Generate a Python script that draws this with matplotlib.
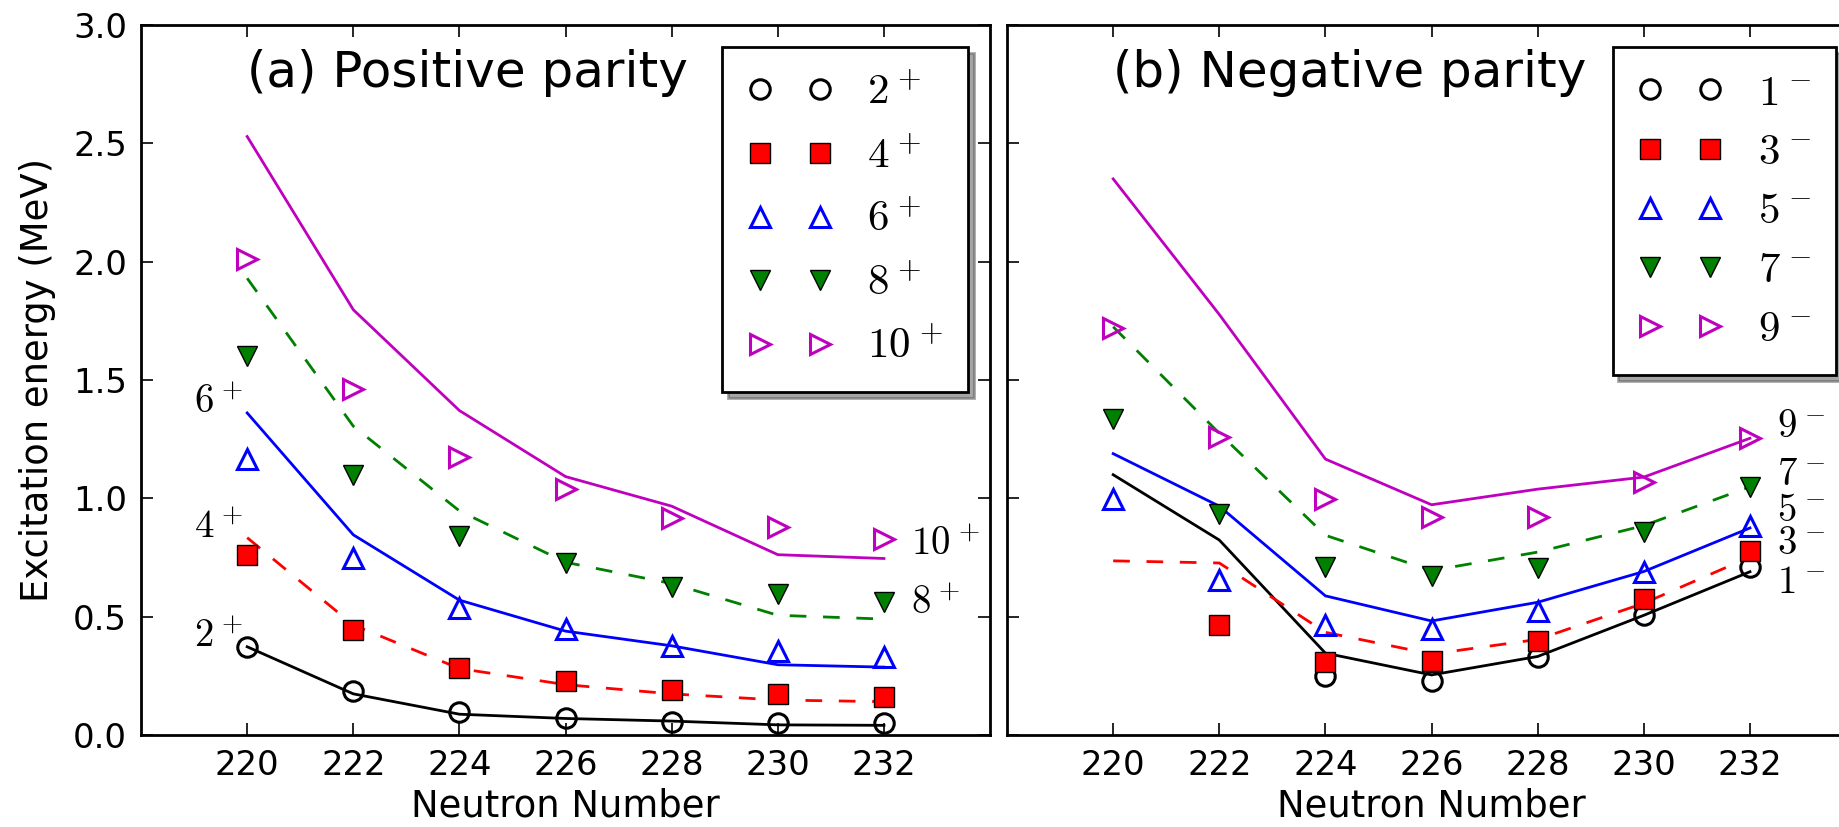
import numpy as np
import matplotlib
matplotlib.use('Agg')
import matplotlib.pyplot as plt

plt.rcParams['font.family'] = 'DejaVu Sans'
plt.rcParams['mathtext.fontset'] = 'cm'

neutrons = [220, 222, 224, 226, 228, 230, 232]

# positive parity: measured levels (markers) and calculated levels (lines)
exp_2p = [0.373, 0.184, 0.096, 0.074, 0.057, 0.051, 0.051]
exp_4p = [0.760, 0.443, 0.285, 0.227, 0.189, 0.174, 0.162]
exp_6p = [1.166, 0.748, 0.535, 0.449, 0.377, 0.357, 0.328]
exp_8p = [1.602, 1.100, 0.840, 0.727, 0.627, 0.598, 0.564]
exp_10p = [2.012, 1.463, 1.176, 1.039, 0.916, 0.881, 0.830]

th_2p = [0.373, 0.174, 0.088, 0.070, 0.059, 0.043, 0.041]
th_4p = [0.834, 0.465, 0.281, 0.213, 0.174, 0.148, 0.141]
th_6p = [1.361, 0.846, 0.570, 0.439, 0.377, 0.297, 0.287]
th_8p = [1.930, 1.305, 0.947, 0.730, 0.640, 0.506, 0.490]
th_10p = [2.529, 1.797, 1.371, 1.092, 0.967, 0.762, 0.746]

# negative parity (None = no measured level)
exp_1m = [None, None, 0.250, 0.230, 0.328, 0.506, 0.711]
exp_3m = [None, 0.465, 0.309, 0.311, 0.398, 0.574, 0.777]
exp_5m = [0.998, 0.654, 0.465, 0.449, 0.523, 0.691, 0.885]
exp_7m = [1.336, 0.932, 0.711, 0.670, 0.705, 0.859, 1.049]
exp_9m = [1.719, 1.258, 0.998, 0.920, 0.920, 1.070, 1.254]

th_1m = [1.100, 0.824, 0.346, 0.254, 0.332, 0.506, 0.690]
th_3m = [0.736, 0.727, 0.434, 0.342, 0.404, 0.557, 0.752]
th_5m = [1.189, 0.967, 0.588, 0.482, 0.561, 0.691, 0.875]
th_7m = [1.725, 1.275, 0.844, 0.695, 0.773, 0.885, 1.049]
th_9m = [2.350, 1.777, 1.166, 0.973, 1.039, 1.090, 1.254]

labels_pos = [r'$2^{\hspace{0.08}+}$', r'$4^{\hspace{0.08}+}$', r'$6^{\hspace{0.08}+}$',
              r'$8^{\hspace{0.08}+}$', r'$10^{\hspace{0.08}+}$']
labels_neg = [r'$1^{\hspace{0.08}-}$', r'$3^{\hspace{0.08}-}$', r'$5^{\hspace{0.08}-}$',
              r'$7^{\hspace{0.08}-}$', r'$9^{\hspace{0.08}-}$']

# spin tags next to the curves
left_tags = [labels_pos[2], labels_pos[1], labels_pos[0]]
left_tag_y = [th_6p[0], th_4p[0], th_2p[0]]
right_tags_pos = [labels_pos[4], labels_pos[3]]
right_tag_y_pos = [0.76, 0.51]
right_tags_neg = [labels_neg[4], labels_neg[3], labels_neg[2], labels_neg[1], labels_neg[0]]
right_tag_y_neg = [1.26, 1.055, 0.905, 0.765, 0.60]

styles = [
    dict(marker='o', mfc='none', mec='k', mew=1.1, line=dict(color='k', ls='-')),
    dict(marker='s', mfc='r', mec='k', mew=0.5, line=dict(color='r', dashes=(6, 6))),
    dict(marker='^', mfc='none', mec='b', mew=1.1, line=dict(color='b', ls='-')),
    dict(marker='v', mfc='g', mec='k', mew=0.5, line=dict(color='g', dashes=(6, 6))),
    dict(marker='>', mfc='none', mec='m', mew=1.1, line=dict(color='m', ls='-')),
]


def panel(ax, exp, th, labels, title, anchor, spacing):
    x = np.array(neutrons)
    for e, t, lab, st in zip(exp, th, labels, styles):
        ax.plot(x, np.array(t, dtype=float), lw=1.0, **st['line'])
        ax.plot(x, np.array(e, dtype=float), ls='none', marker=st['marker'],
                ms=7, mfc=st['mfc'], mec=st['mec'], mew=st['mew'], label=lab)
    ax.set_xlim(218, 234)
    ax.set_ylim(0, 3.0)
    ax.set_xticks(neutrons)
    ax.set_yticks(np.arange(0, 3.01, 0.5))
    ax.tick_params(direction='in', top=True, right=True, length=4.4, width=0.6,
                   labelsize=12.2, pad=5)
    for sp in ax.spines.values():
        sp.set_linewidth(1.0)
    ax.set_xlabel('Neutron Number', fontsize=13.3, labelpad=2)
    ax.text(220, 2.74, title, fontsize=18, ha='left', va='baseline')
    leg = ax.legend(loc='upper right', numpoints=2, shadow=True, fancybox=False,
                    fontsize=15.5, framealpha=1, borderpad=0.57, borderaxespad=0,
                    labelspacing=spacing,
                    bbox_to_anchor=anchor, bbox_transform=fig.transFigure)
    leg.get_frame().set_edgecolor('k')
    leg.get_frame().set_linewidth(1.0)


fig = plt.figure(figsize=(9.195, 4.135), dpi=200)
ax1 = fig.add_axes([0.0767, 0.1112, 0.4617, 0.8585])
ax2 = fig.add_axes([0.5476, 0.1112, 0.4617, 0.8585])

panel(ax1, [exp_2p, exp_4p, exp_6p, exp_8p, exp_10p],
      [th_2p, th_4p, th_6p, th_8p, th_10p], labels_pos, '(a) Positive parity',
      (968 / 1839, 1 - 47 / 827), 0.5)
panel(ax2, [exp_1m, exp_3m, exp_5m, exp_7m, exp_9m],
      [th_1m, th_3m, th_5m, th_7m, th_9m], labels_neg, '(b) Negative parity',
      (1836 / 1839, 1 - 47 / 827), 0.4)

ax1.set_yticklabels(['%.1f' % v for v in np.arange(0, 3.01, 0.5)])
ax1.set_ylabel('Excitation energy (MeV)', fontsize=13.3, labelpad=6)
ax2.set_yticklabels([])

for tag, y in zip(left_tags, left_tag_y):
    ax1.text(219.0, y, tag, fontsize=14, ha='left', va='baseline')
for tag, y in zip(right_tags_pos, right_tag_y_pos):
    ax1.text(232.5, y, tag, fontsize=14, ha='left', va='baseline')
for tag, y in zip(right_tags_neg, right_tag_y_neg):
    ax2.text(232.5, y, tag, fontsize=14, ha='left', va='baseline', clip_on=False)

fig.savefig('out.png', dpi=200)
